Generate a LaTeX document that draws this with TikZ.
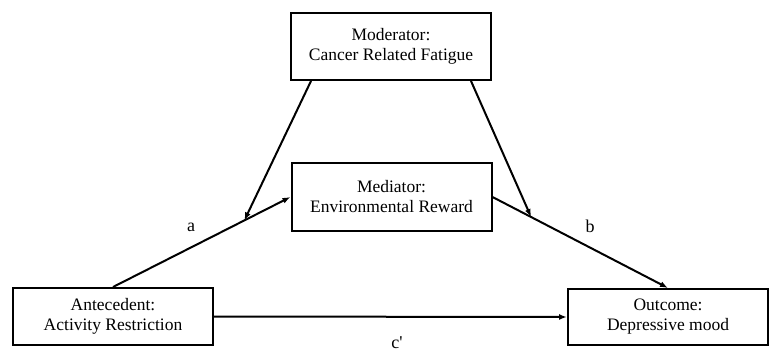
\documentclass[tikz,border=0pt]{standalone}
\usepackage{fontspec}
\setmainfont{Liberation Serif}
\usetikzlibrary{arrows.meta}

\begin{document}
\begin{tikzpicture}[x=1pt, y=-1pt,
	varbox/.style={draw, line width=2pt, minimum width=200pt, align=center, font=\fontsize{17.5}{20}\selectfont},
	path/.style={line width=2pt, -{Latex[length=8pt,width=6pt]}},
	lbl/.style={font=\fontsize{18}{20}\selectfont}]
\useasboundingbox (0,0) rectangle (775,356);

\node [varbox, minimum height=67pt] at (391,46.5) (mod) {Moderator:\\Cancer Related Fatigue};
	\node [varbox, minimum height=68pt] at (391.5,197) (med) {Mediator:\\Environmental Reward};
	\node [varbox, minimum height=57pt] at (113,316.5) (ante) {Antecedent:\\Activity Restriction};
	\node [varbox, minimum height=56pt] at (668,317) (out) {Outcome:\\Depressive mood};

\draw [path] (ante.north) -- (med.west) coordinate[pos=0.74] (ahit);
	\draw [path] (med.east) -- (out.north) coordinate[pos=0.22] (bhit);
	\draw [path] (ante.east) -- (out.west);

\draw [path] ([xshift=21pt]mod.south west) -- (ahit);
	\draw [path] ([xshift=-21pt]mod.south east) -- (bhit);

\foreach \x/\y/\id/\txt in {191/227/a/a, 590/226/b/b, 397/343/c/c\textquotesingle}
		\node [lbl] at (\x,\y) (lbl-\id) {\txt};

\end{tikzpicture}
\end{document}
